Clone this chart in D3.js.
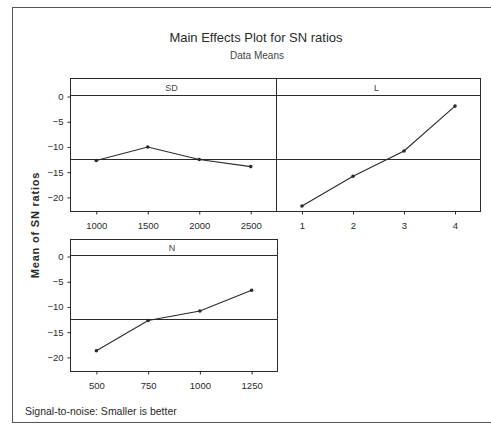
<!DOCTYPE html>
<html>
<head>
<meta charset="utf-8">
<script src="https://cdn.jsdelivr.net/npm/d3@7"></script>
<style>
  body { margin: 0; background: #fff; }
  svg { display: block; font-family: "Liberation Sans", Arial, sans-serif; }
</style>
</head>
<body>
<div id="chart"></div>
<script>
// factor levels and mean SN ratio at each level
const SD_LEVELS = ["1000", "1500", "2000", "2500"];
const SD_MEANS = [-12.7, -10.0, -12.5, -13.9];

const L_LEVELS = ["1", "2", "3", "4"];
const L_MEANS = [-21.7, -15.8, -10.8, -1.9];

const N_LEVELS = ["500", "750", "1000", "1250"];
const N_MEANS = [-18.7, -12.7, -10.8, -6.7];

const Y_TICKS = [0, -5, -10, -15, -20];
const Y_DOMAIN = [-22.8, 0.2];
const GRAND_MEAN = -12.4;

const width = 491, height = 426;
const ink = "#2a2a2a";

var svg = d3.select("#chart").append("svg")
    .attr("width", width)
    .attr("height", height);

// outer frame (right side runs off the page)
svg.append("rect")
    .attr("x", 12.5).attr("y", 7.5)
    .attr("width", 500).attr("height", 415)
    .attr("fill", "none")
    .attr("stroke", "#555")
    .attr("stroke-width", 1);

svg.append("text")
    .attr("x", 256).attr("y", 42)
    .attr("text-anchor", "middle")
    .style("font-size", "13px")
    .attr("fill", ink)
    .text("Main Effects Plot for SN ratios");

svg.append("text")
    .attr("x", 257).attr("y", 59)
    .attr("text-anchor", "middle")
    .style("font-size", "10px")
    .attr("fill", "#444")
    .text("Data Means");

svg.append("text")
    .attr("transform", "translate(39,225) rotate(-90)")
    .attr("text-anchor", "middle")
    .style("font-size", "11px")
    .style("font-weight", "bold")
    .style("letter-spacing", "0.8px")
    .attr("fill", ink)
    .text("Mean of SN ratios");

svg.append("text")
    .attr("x", 25).attr("y", 415)
    .style("font-size", "10.5px")
    .attr("fill", ink)
    .text("Signal-to-noise: Smaller is better");

// panel layout: left, right, strip top, plot top, plot bottom
const panels = [
    {name: "SD", levels: SD_LEVELS, values: SD_MEANS, x0: 70.5, x1: 276.5, top: 78.5, py0: 95.5, py1: 211.5, yAxis: true},
    {name: "L",  levels: L_LEVELS,  values: L_MEANS,  x0: 276.5, x1: 480.5, top: 78.5, py0: 95.5, py1: 211.5, yAxis: false},
    {name: "N",  levels: N_LEVELS,  values: N_MEANS,  x0: 70.5, x1: 277.5, top: 239.5, py0: 255.5, py1: 371.5, yAxis: true}
];

panels.forEach(function(p) {
    var x = d3.scalePoint().domain(p.levels).range([p.x0, p.x1]).padding(0.5);
    var y = d3.scaleLinear().domain(Y_DOMAIN).range([p.py1, p.py0]);
    var g = svg.append("g");

    // mean reference line
    g.append("line")
        .attr("x1", p.x0).attr("x2", p.x1)
        .attr("y1", Math.round(y(GRAND_MEAN)) + 0.5).attr("y2", Math.round(y(GRAND_MEAN)) + 0.5)
        .attr("stroke", ink).attr("stroke-width", 1);

    var line = d3.line()
        .x(function(d, i) { return x(p.levels[i]); })
        .y(function(d) { return y(d); });

    g.append("path")
        .datum(p.values)
        .attr("d", line)
        .attr("fill", "none")
        .attr("stroke", ink)
        .attr("stroke-width", 1.1);

    g.selectAll("circle")
        .data(p.values).enter()
        .append("circle")
        .attr("cx", function(d, i) { return x(p.levels[i]); })
        .attr("cy", function(d) { return y(d); })
        .attr("r", 1.8)
        .attr("fill", ink);

    // strip + border
    g.append("line")
        .attr("x1", p.x0).attr("x2", p.x1)
        .attr("y1", p.py0).attr("y2", p.py0)
        .attr("stroke", ink).attr("stroke-width", 1);
    g.append("rect")
        .attr("x", p.x0).attr("y", p.top)
        .attr("width", p.x1 - p.x0).attr("height", p.py1 - p.top)
        .attr("fill", "none")
        .attr("stroke", ink).attr("stroke-width", 1);
    g.append("text")
        .attr("x", (p.x0 + p.x1) / 2 - 2)
        .attr("y", (p.top + p.py0) / 2 + 3.5)
        .attr("text-anchor", "middle")
        .style("font-size", "9px")
        .attr("fill", "#444")
        .text(p.name);

    // x axis
    var xa = g.append("g")
        .attr("transform", "translate(0," + p.py1 + ")")
        .call(d3.axisBottom(x).tickSize(3).tickPadding(8));
    xa.select(".domain").remove();
    xa.selectAll("line").attr("stroke", ink);
    xa.selectAll("text").style("font-size", "9.5px").attr("fill", ink)
        .style("font-family", "'Liberation Sans', Arial, sans-serif");

    if (p.yAxis) {
        var ya = g.append("g")
            .attr("transform", "translate(" + p.x0 + ",0)")
            .call(d3.axisLeft(y).tickValues(Y_TICKS).tickSize(3).tickPadding(4));
        ya.select(".domain").remove();
        ya.selectAll("line").attr("stroke", ink);
        ya.selectAll("text").style("font-size", "9.5px").attr("fill", ink)
            .style("font-family", "'Liberation Sans', Arial, sans-serif");
    }
});
</script>
</body>
</html>
